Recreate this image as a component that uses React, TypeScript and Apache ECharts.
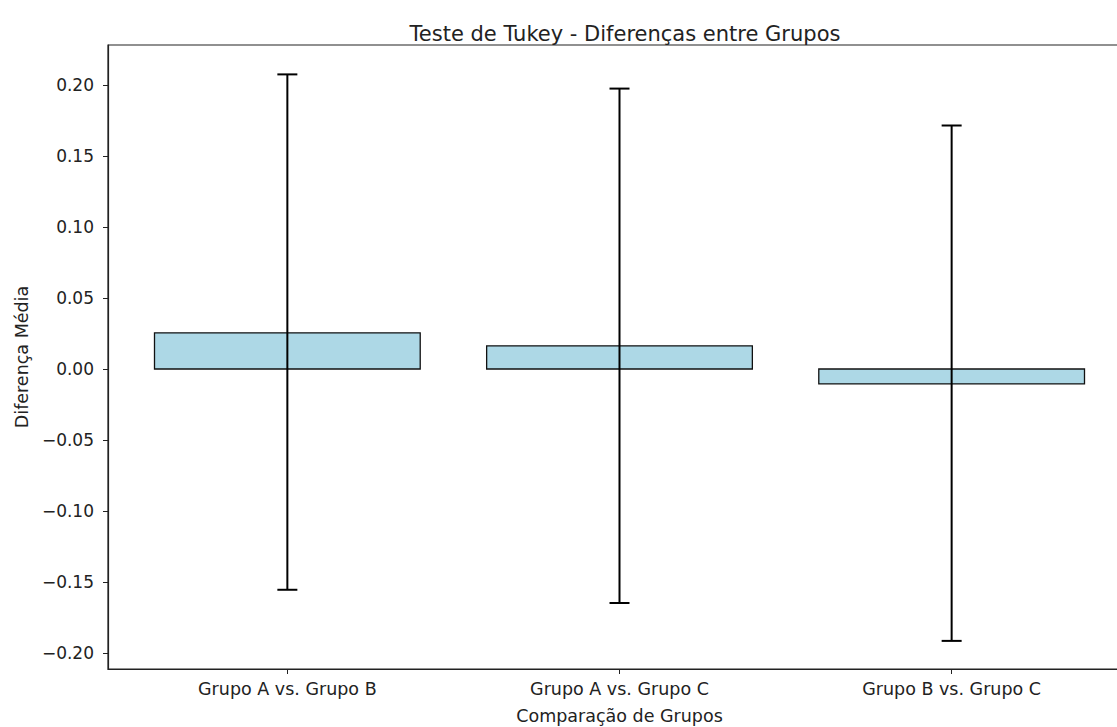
import React, { useEffect, useRef } from "react";
import * as echarts from "echarts";

const categories = ["Grupo A vs. Grupo B", "Grupo A vs. Grupo C", "Grupo B vs. Grupo C"];
const meanDiff = [0.0255, 0.0163, -0.0105];
const lowerCI = [-0.1555, -0.1648, -0.1915];
const upperCI = [0.2075, 0.1975, 0.1715];
const yTicks = [-0.2, -0.15, -0.1, -0.05, 0, 0.05, 0.1, 0.15, 0.2];
const xTicks = [0, 1, 2];

const FONT = "DejaVu Sans";

export default function App() {
  const ref = useRef<HTMLDivElement>(null);
  useEffect(() => {
    if (!ref.current) return;
    const chart = echarts.init(ref.current, null, { renderer: "svg" });
    const barData = categories.map((_, i) => [i, meanDiff[i]]);
    const errData = categories.map((_, i) => [i, lowerCI[i], upperCI[i]]);
    chart.setOption({
      animation: false,
      backgroundColor: "#ffffff",
      textStyle: { fontFamily: FONT },
      title: {
        text: "Teste de Tukey - Diferenças entre Grupos",
        left: 620,
        top: 18,
        textAlign: "center",
        textStyle: { fontFamily: FONT, fontSize: 21, fontWeight: "normal", color: "#222" },
      },
      grid: {
        left: 108,
        top: 45,
        right: -14,
        bottom: 58,
        show: true,
        borderColor: "#222",
        borderWidth: 1.2,
        outerBoundsMode: "none",
        containLabel: false,
      },
      xAxis: {
        type: "value",
        min: -0.54,
        max: 2.54,
        splitLine: { show: false },
        axisLine: { show: true, onZero: false, lineStyle: { color: "#222", width: 1.2 } },
        axisTick: { show: true, length: 5, lineStyle: { color: "#222" }, customValues: xTicks },
        axisLabel: {
          customValues: xTicks,
          formatter: (v: number) => categories[Math.round(v)] ?? "",
          fontFamily: FONT,
          fontSize: 17.5,
          color: "#222",
          margin: 11,
        },
        name: "Comparação de Grupos",
        nameLocation: "middle",
        nameGap: 38,
        nameTextStyle: { fontFamily: FONT, fontSize: 17.5, color: "#222" },
      },
      yAxis: {
        type: "value",
        min: -0.2113,
        max: 0.2282,
        splitLine: { show: false },
        axisLine: { show: true, onZero: false, lineStyle: { color: "#222", width: 1.2 } },
        axisTick: { show: true, length: 5, lineStyle: { color: "#222" }, customValues: yTicks },
        axisLabel: {
          customValues: yTicks,
          formatter: (v: number) => (v < -1e-9 ? "\u2212" : "") + Math.abs(v).toFixed(2),
          fontFamily: FONT,
          fontSize: 17,
          color: "#222",
          margin: 14,
        },
        name: "Diferença Média",
        nameLocation: "middle",
        nameGap: 77,
        nameRotate: 90,
        nameTextStyle: { fontFamily: FONT, fontSize: 17.5, color: "#222" },
      },
      series: [
        {
          type: "custom",
          name: "bars",
          data: barData,
          encode: { x: 0, y: 1 },
          z: 2,
          renderItem: (params: any, api: any) => {
            const x = api.value(0);
            const y = api.value(1);
            const p1 = api.coord([x - 0.4, y]);
            const p0 = api.coord([x + 0.4, 0]);
            return {
              type: "rect",
              shape: {
                x: p1[0],
                y: Math.min(p1[1], p0[1]),
                width: p0[0] - p1[0],
                height: Math.abs(p0[1] - p1[1]),
              },
              style: { fill: "#ADD8E6", stroke: "#111", lineWidth: 1.3 },
            };
          },
        },
        {
          type: "custom",
          name: "errors",
          data: errData,
          encode: { x: 0, y: [1, 2] },
          z: 3,
          renderItem: (params: any, api: any) => {
            const x = api.value(0);
            const lo = api.coord([x, api.value(1)]);
            const hi = api.coord([x, api.value(2)]);
            const cap = 10;
            const ls = { stroke: "#000", lineWidth: 2 };
            return {
              type: "group",
              children: [
                { type: "line", shape: { x1: lo[0], y1: lo[1], x2: hi[0], y2: hi[1] }, style: ls },
                { type: "line", shape: { x1: lo[0] - cap, y1: lo[1], x2: lo[0] + cap, y2: lo[1] }, style: ls },
                { type: "line", shape: { x1: hi[0] - cap, y1: hi[1], x2: hi[0] + cap, y2: hi[1] }, style: ls },
              ],
            };
          },
        },
      ],
    });
    return () => chart.dispose();
  }, []);
  return (
    <div
      ref={ref}
      style={{ position: "absolute", left: 0, top: 0, width: 1117, height: 727 }}
    />
  );
}
